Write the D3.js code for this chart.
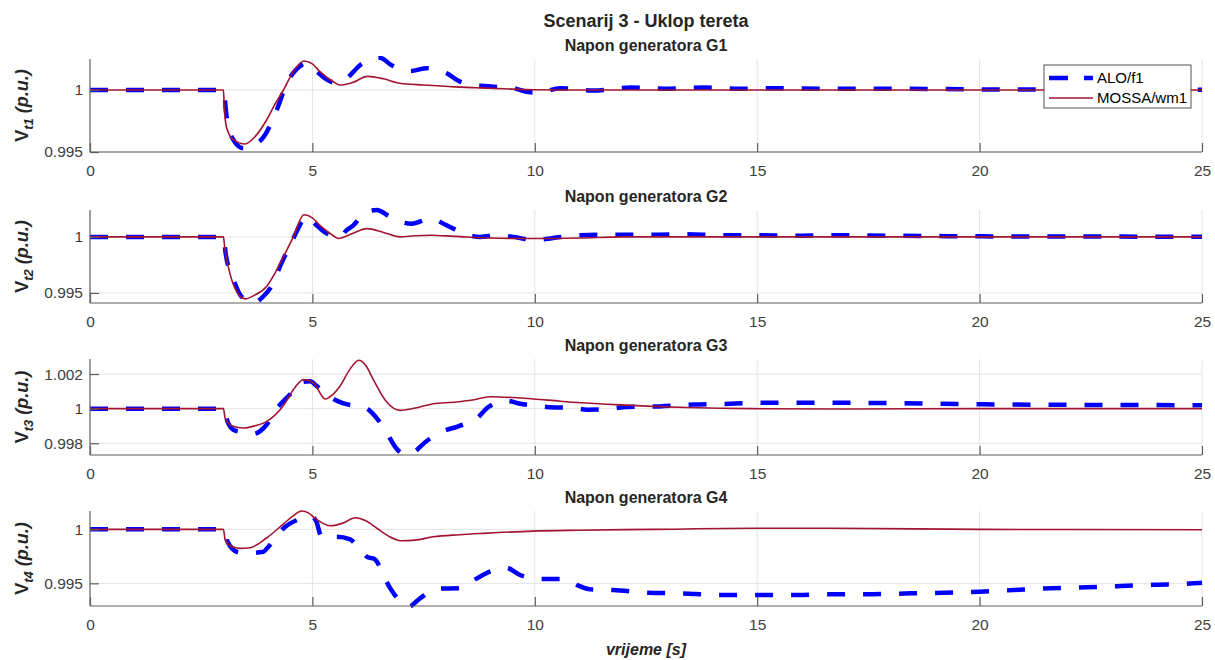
<!DOCTYPE html>
<html><head><meta charset="utf-8">
<script src="https://cdn.jsdelivr.net/npm/d3@7"></script>
<style>
body{margin:0;background:#fff;}
svg{display:block;font-family:"Liberation Sans",Arial,Helvetica,sans-serif;}
</style></head><body>
<svg id="c" width="1215" height="660"></svg>
<script>
// ---------------- data ----------------
const mainTitle = "Scenarij 3 - Uklop tereta";
const panelTitles = ["Napon generatora G1","Napon generatora G2","Napon generatora G3","Napon generatora G4"];
const ySubscripts = ["t1","t2","t3","t4"];
const xLabel = "vrijeme [s]";
const seriesNames = ["ALO/f1","MOSSA/wm1"];
const xTicks = [0,5,10,15,20,25];
const xLimits = [0,25];

const yLimits1 = [0.995, 1.0025];
const yLimits2 = [0.9941, 1.0024];
const yLimits3 = [0.99732, 1.00287];
const yLimits4 = [0.9929, 1.0017];
const yTicks1 = [0.995, 1];
const yTicks2 = [0.995, 1];
const yTicks3 = [0.998, 1, 1.002];
const yTicks4 = [0.995, 1];

// G1
const tAlo1 = [0,3,3.07,3.22,3.45,3.65,3.9,4.2,4.42,4.65,4.87,5.1,5.3,5.5,5.77,6.07,6.52,6.78,7.2,7.57,8.02,8.32,8.77,9.07,9.52,9.9,10.1,10.57,11.3,12.15,13,13.8,14.6,15.5,16.5,18,20,22,25];
const vAlo1 = [1,1,0.9979,0.9960,0.9953,0.9955,0.9962,0.9984,1.0005,1.0017,1.00215,1.0015,1.0009,1.0006,1.00094,1.002,1.0026,1.002,1.00153,1.00175,1.00135,1.00067,1.00035,1.00027,1.00014,0.99981,0.9998,1.00014,0.99995,1.0002,1.0001,1.0002,1.0001,1.00015,1.0001,1.0001,1.00005,1.00003,1.00003];
const tMossa1 = [0,3,3.02,3.07,3.22,3.49,3.7,3.97,4.15,4.35,4.57,4.81,5.0,5.17,5.47,5.62,5.9,6.24,6.6,6.97,7.5,8.2,8.7,9.3,10,11,25];
const vMossa1 = [1,1,0.9985,0.9970,0.9960,0.99565,0.9962,0.99758,0.9988,1.0,1.00148,1.00234,1.0021,1.00148,1.00067,1.0004,1.0006,1.0011,1.0009,1.00054,1.0004,1.00025,1.00018,1.0001,1.00002,1.0,1.0];

// G2
const tAlo2 = [0,3,3.05,3.2,3.4,3.67,3.9,4.12,4.27,4.39,4.57,4.88,5.05,5.25,5.62,5.77,5.92,6.15,6.45,6.7,6.9,7.23,7.65,8.02,8.4,8.77,9.15,9.52,9.97,10.35,10.95,11.8,12.6,13.4,14.2,15,15.8,16.6,18,20,22,25];
const vAlo2 = [1,1,0.9985,0.9965,0.9947,0.99412,0.9947,0.99589,0.99735,0.99838,0.99986,1.0018,1.0012,1.0005,1.0,1.0006,1.00103,1.00207,1.0024,1.0019,1.00147,1.00118,1.00162,1.00103,1.0003,1.0,1.00015,1.0,0.99971,0.99986,1.00015,1.0002,1.0002,1.00024,1.00015,1.00015,1.0001,1.00015,1.0001,1.00005,1.00003,1.00002];
const tMossa2 = [0,3,3.03,3.1,3.25,3.49,3.7,3.97,4.15,4.35,4.57,4.81,5.0,5.17,5.4,5.59,5.9,6.22,6.6,6.97,7.3,7.65,8.2,9,10,11,12,25];
const vMossa2 = [1,1,0.9990,0.9975,0.9955,0.99447,0.9948,0.99558,0.9967,0.99823,1.0,1.00198,1.0017,1.00103,1.0003,0.99986,1.0003,1.00074,1.0004,1.0,1.0001,1.00015,1.00005,0.9999,0.99985,0.9999,1.0,1.0];

// G3
const tAlo3 = [0,3,3.1,3.22,3.45,3.67,3.97,4.2,4.5,4.72,4.95,5.1,5.36,5.7,5.92,6.15,6.45,6.67,6.9,7.1,7.27,7.57,7.95,8.28,8.7,8.96,9.37,9.67,9.97,10.27,10.9,11.17,11.6,12.07,12.8,13.57,14.4,15.15,16.7,18,20,22,25];
const vAlo3 = [1,1,0.9992,0.99878,0.99862,0.99854,0.99907,1.0,1.00084,1.0015,1.00158,1.0013,1.00074,1.0003,1.00018,1.0001,0.99944,0.9986,0.99766,0.99735,0.99748,0.99813,0.9987,0.99898,0.99944,1.0001,1.00046,1.00028,1.00018,1.0001,1.00004,0.99994,0.99996,1.0001,1.00013,1.00024,1.00028,1.00034,1.00034,1.00032,1.00025,1.00022,1.0002];
const tMossa3 = [0,3,3.04,3.2,3.45,3.7,3.97,4.35,4.6,4.8,5.02,5.29,5.45,5.62,5.85,6.04,6.2,6.37,6.67,6.97,7.42,7.72,8.17,8.6,9.0,9.97,10.57,11.92,13.4,14.9,17,20,25];
const vMossa3 = [1,1,0.99944,0.9990,0.99888,0.9990,0.99925,1.00018,1.0012,1.00168,1.0015,1.00056,1.0008,1.0013,1.0023,1.0028,1.0025,1.00168,1.00038,0.9999,1.0001,1.00028,1.00037,1.0005,1.00069,1.00056,1.00043,1.00022,1.00007,1.0,0.99998,1.0,1.0];

// G4
const tAlo4 = [0,3,3.1,3.3,3.55,3.9,3.97,4.15,4.35,4.65,4.97,5.08,5.21,5.55,5.85,6.0,6.25,6.37,6.75,7.0,7.16,7.42,7.8,8.3,8.7,9.0,9.35,9.67,10.1,10.7,10.95,11.25,11.77,12.52,13.27,14.17,15,15.9,16.6,17.6,18.44,19.2,20,20.77,21.6,22.4,23.17,24,24.8,25];
const vAlo4 = [1,1,0.9988,0.99793,0.9978,0.99793,0.9982,0.9991,1.0001,1.00086,1.0012,1.0008,0.99931,0.99931,0.99907,0.9985,0.9974,0.99731,0.99454,0.9932,0.99283,0.99361,0.9945,0.99454,0.99546,0.9961,0.99645,0.99577,0.9954,0.9954,0.99484,0.99444,0.99438,0.99413,0.99407,0.99392,0.99392,0.99392,0.994,0.994,0.99407,0.99413,0.99422,0.99438,0.99454,0.99463,0.99475,0.99487,0.995,0.99505];
const tMossa4 = [0,3,3.04,3.15,3.37,3.6,3.97,4.35,4.55,4.76,4.92,5.06,5.22,5.4,5.7,5.96,6.2,6.45,6.7,6.99,7.3,7.72,8.3,8.85,9.97,11,12.67,14.9,16.7,20,22,25];
const vMossa4 = [1,1,0.9990,0.9985,0.99824,0.9983,0.9992,1.0005,1.0012,1.0017,1.0015,1.00102,1.0006,1.00033,1.0006,1.00107,1.0008,1.0001,0.9994,0.99894,0.9990,0.99931,0.9995,0.99963,0.99984,0.99992,1.0,1.0001,1.0001,1.0,0.99998,0.99996];

// ---------------- drawing ----------------
const panels = [
  {title:panelTitles[0], sub:ySubscripts[0], lim:yLimits1, ticks:yTicks1, alo:[tAlo1,vAlo1], mossa:[tMossa1,vMossa1]},
  {title:panelTitles[1], sub:ySubscripts[1], lim:yLimits2, ticks:yTicks2, alo:[tAlo2,vAlo2], mossa:[tMossa2,vMossa2]},
  {title:panelTitles[2], sub:ySubscripts[2], lim:yLimits3, ticks:yTicks3, alo:[tAlo3,vAlo3], mossa:[tMossa3,vMossa3]},
  {title:panelTitles[3], sub:ySubscripts[3], lim:yLimits4, ticks:yTicks4, alo:[tAlo4,vAlo4], mossa:[tMossa4,vMossa4]}
];
const layoutTops = [59, 210, 359, 511];
const layoutBottoms = [152, 303, 455, 606];
const L = 90, R = 1202;
const BLUE = "#0000ff", RED = "#a2142f";
const AXC = "#5e5e5e", TXC = "#404040", GRID = "#e3e3e3";

const svg = d3.select("#c");
const x = d3.scaleLinear().domain(xLimits).range([L, R]);

svg.append("text").attr("x", (L+R)/2).attr("y", 27).attr("text-anchor","middle")
  .attr("font-size", 18).attr("font-weight","bold").attr("fill","#262626").text(mainTitle);

const defs = svg.append("defs");

panels.forEach((p, i) => {
  const top = layoutTops[i], bot = layoutBottoms[i];
  const y = d3.scaleLinear().domain(p.lim).range([bot, top]);
  const g = svg.append("g");

  // grid
  g.selectAll(".gx").data(xTicks.filter(t => t > xLimits[0])).enter().append("line")
    .attr("x1", d => x(d)).attr("x2", d => x(d)).attr("y1", top).attr("y2", bot)
    .attr("stroke", GRID).attr("stroke-width", 1);
  g.selectAll(".gy").data(p.ticks).enter().append("line")
    .attr("x1", L).attr("x2", R).attr("y1", d => y(d)).attr("y2", d => y(d))
    .attr("stroke", GRID).attr("stroke-width", 1);

  // clip
  defs.append("clipPath").attr("id", "clip"+i).append("rect")
    .attr("x", L-3).attr("y", top-3).attr("width", R-L+6).attr("height", bot-top+6);

  const line = d3.line().x(d => x(d[0])).y(d => y(d[1])).curve(d3.curveMonotoneX);
  const lg = g.append("g").attr("clip-path", "url(#clip"+i+")");
  lg.append("path").datum(d3.zip(p.alo[0], p.alo[1]))
    .attr("d", line).attr("fill","none").attr("stroke", BLUE)
    .attr("stroke-width", 4.5).attr("stroke-dasharray","18,18");
  lg.append("path").datum(d3.zip(p.mossa[0], p.mossa[1]))
    .attr("d", line).attr("fill","none").attr("stroke", RED)
    .attr("stroke-width", 1.6);

  // axes
  const xa = d3.axisBottom(x).tickValues(xTicks).tickSize(-9).tickPadding(13).tickFormat(d3.format("d"));
  const xg = g.append("g").attr("transform", `translate(0,${bot})`).call(xa);
  const ya = d3.axisLeft(y).tickValues(p.ticks).tickSize(-9).tickPadding(7).tickFormat(d => String(d));
  const yg = g.append("g").attr("transform", `translate(${L},0)`).call(ya);
  [xg, yg].forEach(a => {
    a.select(".domain").attr("stroke", AXC).attr("stroke-width", 1.2);
    a.selectAll(".tick line").attr("stroke", AXC).attr("stroke-width", 1.2);
    a.selectAll(".tick text").attr("fill", TXC).attr("font-size", 15.5)
      .attr("font-family", '"Liberation Sans",Arial,sans-serif');
  });
  // remove domain end caps (outer ticks)
  xg.select(".domain").attr("d", `M${L},0H${R}`);
  yg.select(".domain").attr("d", `M0,${top}V${bot}`);

  // subtitle
  svg.append("text").attr("x", (L+R)/2).attr("y", top-8).attr("text-anchor","middle")
    .attr("font-size", 16).attr("font-weight","bold").attr("fill","#262626").text(p.title);

  // y label
  const yl = svg.append("text")
    .attr("transform", `translate(28,${(top+bot)/2}) rotate(-90)`)
    .attr("text-anchor","middle").attr("font-weight","bold").attr("fill","#262626").attr("font-size", 18);
  yl.append("tspan").text("V");
  yl.append("tspan").attr("font-size", 13).attr("font-style","italic").attr("dy", 5).text(p.sub);
  yl.append("tspan").attr("font-style","italic").attr("dy", -5).text(" (p.u.)");
});

// x label
svg.append("text").attr("x", (L+R)/2).attr("y", 655).attr("text-anchor","middle")
  .attr("font-size", 16).attr("font-weight","bold").attr("font-style","italic").attr("fill","#262626").text(xLabel);

// legend
const lgX = 1044, lgY = 65, lgW = 147, lgH = 43;
const leg = svg.append("g");
leg.append("rect").attr("x", lgX).attr("y", lgY).attr("width", lgW).attr("height", lgH)
  .attr("fill","#fff").attr("stroke","#262626").attr("stroke-width", 0.8);
const legItems = [
  {name: seriesNames[0], color: BLUE, w: 4.5, dash: "19,16"},
  {name: seriesNames[1], color: RED, w: 1.6, dash: null}
];
legItems.forEach((it, k) => {
  const cy = lgY + 13 + k*20;
  leg.append("line").attr("x1", lgX+5).attr("x2", lgX+49).attr("y1", cy).attr("y2", cy)
    .attr("stroke", it.color).attr("stroke-width", it.w).attr("stroke-dasharray", it.dash);
  leg.append("text").attr("x", lgX+53).attr("y", cy).attr("dy","0.35em")
    .attr("font-size", 15).attr("fill","#000").text(it.name);
});
</script>
</body></html>
